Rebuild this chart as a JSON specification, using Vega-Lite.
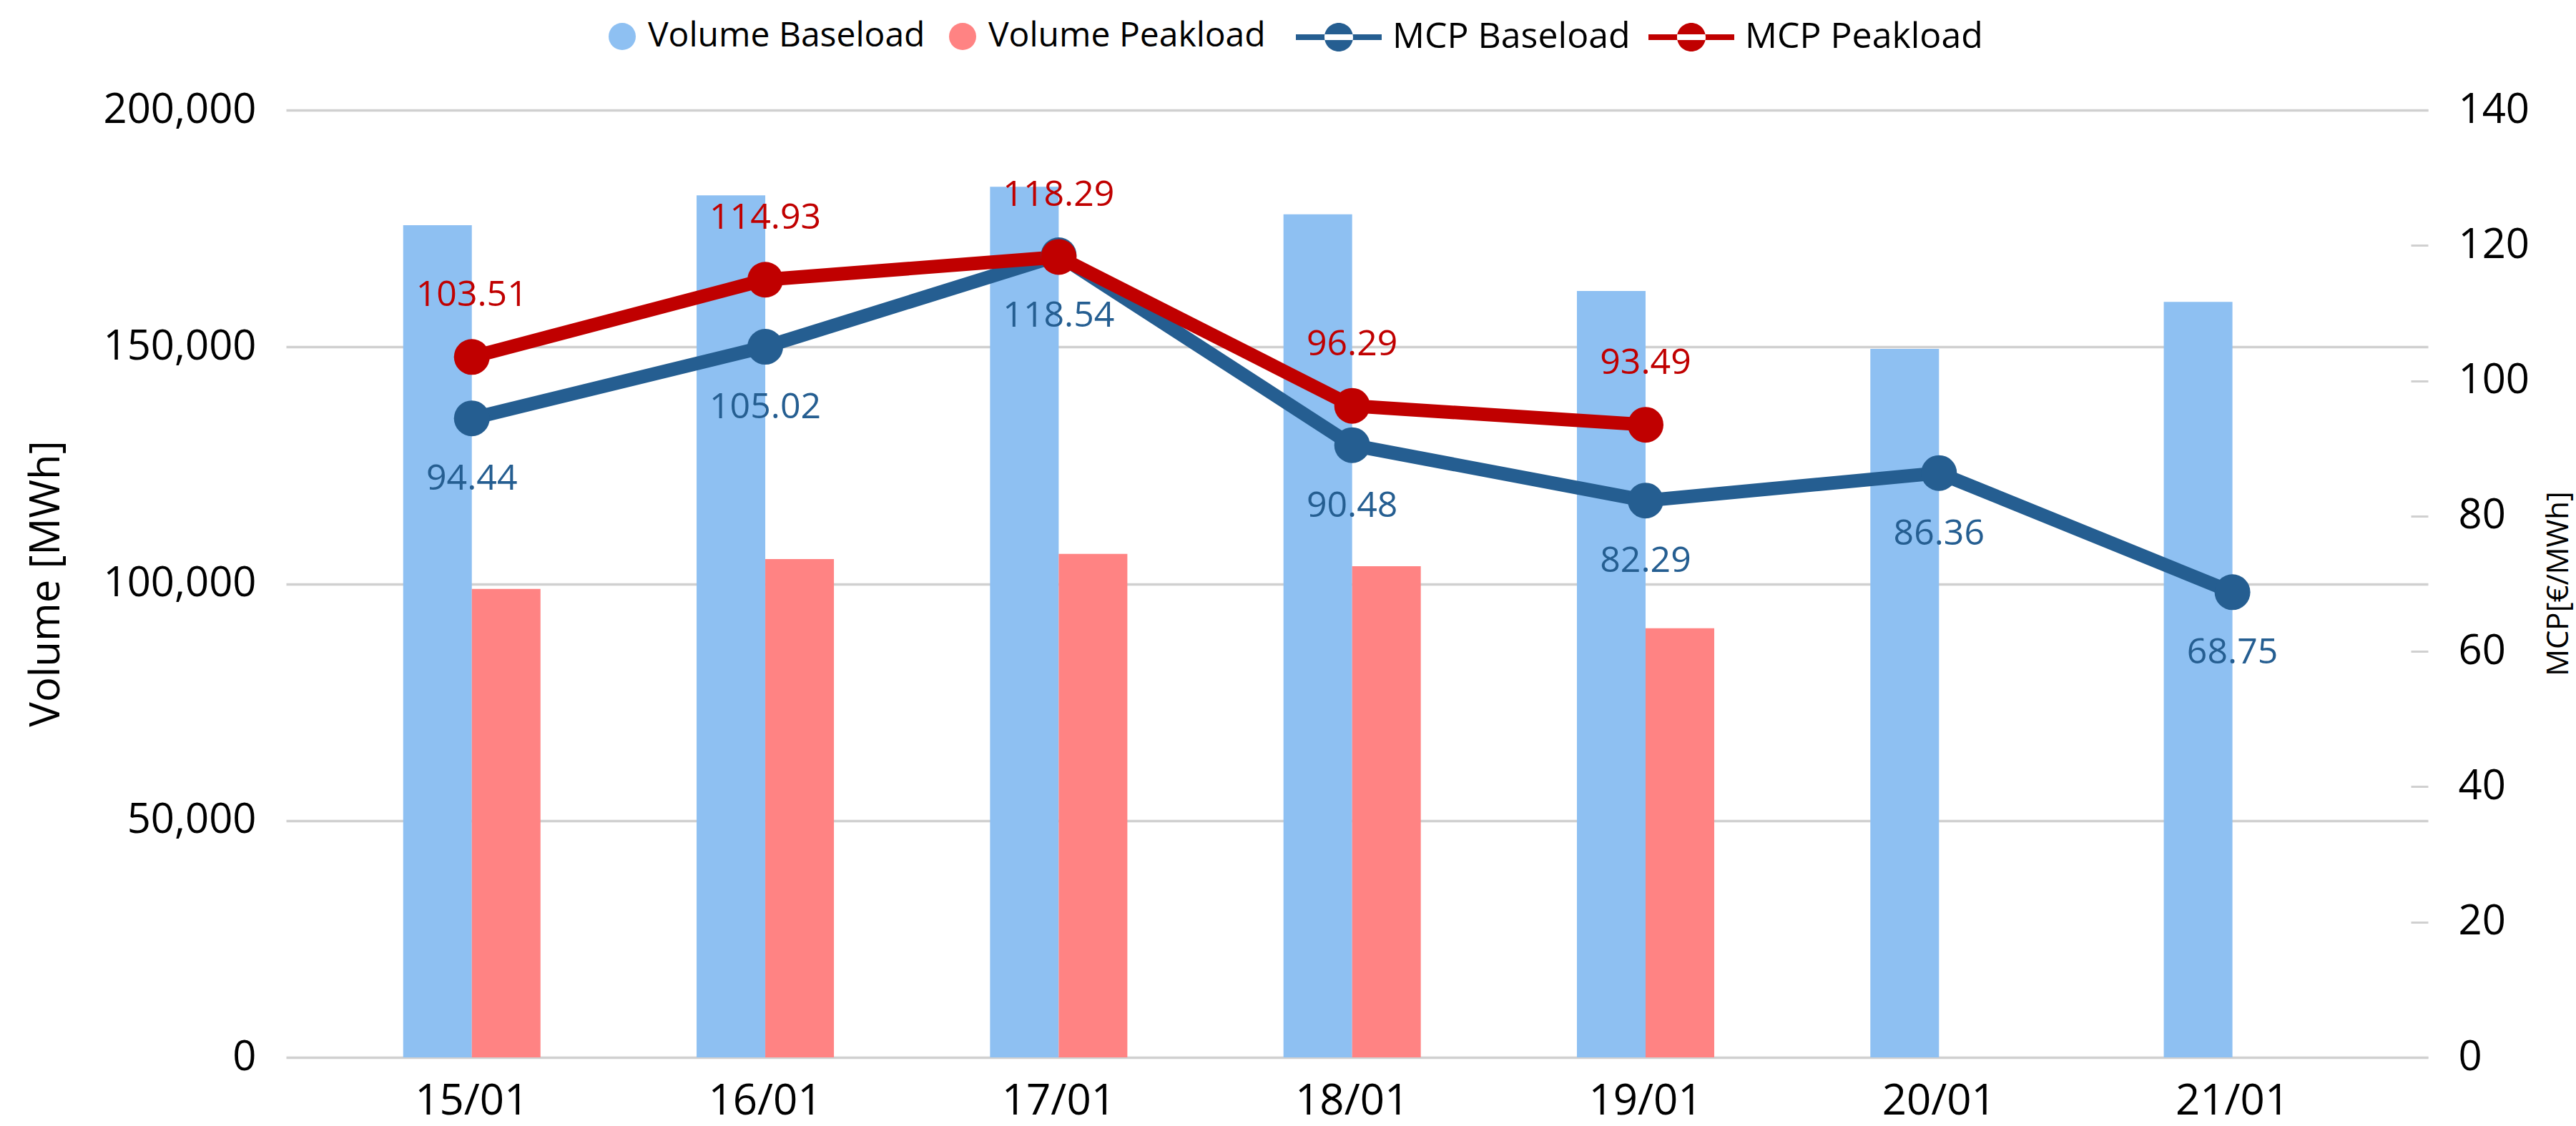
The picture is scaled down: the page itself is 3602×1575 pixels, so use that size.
{
  "$schema": "https://vega.github.io/schema/vega-lite/v6.json",
  "width": 2995,
  "height": 1325,
  "autosize": {"type": "none"},
  "padding": {"left": 400, "top": 154, "right": 207, "bottom": 96},
  "background": "white",
  "datasets": {
    "volume": [
      {"date": "15/01", "series": "Volume Baseload", "volume": 175700},
      {"date": "15/01", "series": "Volume Peakload", "volume": 98900},
      {"date": "16/01", "series": "Volume Baseload", "volume": 182000},
      {"date": "16/01", "series": "Volume Peakload", "volume": 105200},
      {"date": "17/01", "series": "Volume Baseload", "volume": 183800},
      {"date": "17/01", "series": "Volume Peakload", "volume": 106300},
      {"date": "18/01", "series": "Volume Baseload", "volume": 178000},
      {"date": "18/01", "series": "Volume Peakload", "volume": 103700},
      {"date": "19/01", "series": "Volume Baseload", "volume": 161800},
      {"date": "19/01", "series": "Volume Peakload", "volume": 90600},
      {"date": "20/01", "series": "Volume Baseload", "volume": 149600},
      {"date": "21/01", "series": "Volume Baseload", "volume": 159500}
    ],
    "mcp": [
      {"date": "15/01", "series": "MCP Baseload", "mcp": 94.44},
      {"date": "16/01", "series": "MCP Baseload", "mcp": 105.02},
      {"date": "17/01", "series": "MCP Baseload", "mcp": 118.54},
      {"date": "18/01", "series": "MCP Baseload", "mcp": 90.48},
      {"date": "19/01", "series": "MCP Baseload", "mcp": 82.29},
      {"date": "20/01", "series": "MCP Baseload", "mcp": 86.36},
      {"date": "21/01", "series": "MCP Baseload", "mcp": 68.75},
      {"date": "15/01", "series": "MCP Peakload", "mcp": 103.51},
      {"date": "16/01", "series": "MCP Peakload", "mcp": 114.93},
      {"date": "17/01", "series": "MCP Peakload", "mcp": 118.29},
      {"date": "18/01", "series": "MCP Peakload", "mcp": 96.29},
      {"date": "19/01", "series": "MCP Peakload", "mcp": 93.49}
    ]
  },
  "config": {
    "view": {"stroke": null},
    "font": "Open Sans",
    "axis": {"labelColor": "#000000", "titleColor": "#000000", "labelFont": "Open Sans", "titleFont": "Open Sans", "titleFontWeight": "normal", "labelLimit": 0},
    "legend": {"padding": 0, "labelFont": "Open Sans", "labelFontSize": 50, "labelColor": "#000000", "labelLimit": 0}
  },
  "encoding": {
    "x": {
      "field": "date",
      "type": "nominal",
      "sort": ["15/01", "16/01", "17/01", "18/01", "19/01", "20/01", "21/01"],
      "scale": {"type": "band", "paddingInner": 0.532, "paddingOuter": 0.4157, "align": 0.48},
      "axis": {"title": null, "domain": false, "ticks": false, "grid": false, "labelFontSize": 60, "labelPadding": 32, "labelAngle": 0}
    }
  },
  "layer": [
    {
      "data": {"name": "volume"},
      "mark": {"type": "bar"},
      "encoding": {
        "xOffset": {"field": "series", "type": "nominal", "scale": {"domain": ["Volume Baseload", "Volume Peakload"], "paddingInner": 0, "paddingOuter": 0}},
        "y": {
          "field": "volume",
          "type": "quantitative",
          "scale": {"domain": [0, 200000], "nice": false},
          "axis": {
            "title": "Volume [MWh]",
            "values": [0, 50000, 100000, 150000, 200000],
            "format": ",d",
            "grid": true,
            "gridColor": "#D0D0D0",
            "gridWidth": 3.5,
            "domain": false,
            "ticks": false,
            "labelFontSize": 58,
            "labelPadding": 42,
            "titleFontSize": 58,
            "titleAngle": 270,
            "titleX": -335,
            "titleY": 662,
            "titleAlign": "center",
            "titleBaseline": "middle"
          }
        },
        "color": {
          "field": "series",
          "type": "nominal",
          "scale": {"domain": ["Volume Baseload", "Volume Peakload"], "range": ["#8EC0F2", "#FF8383"]},
          "legend": {
            "title": null,
            "orient": "none",
            "direction": "horizontal",
            "legendX": 446,
            "legendY": -127,
            "symbolType": "circle",
            "symbolSize": 1444,
            "symbolStrokeWidth": 0,
            "labelFontSize": 48,
            "labelOffset": 12,
            "columnPadding": 28
          }
        }
      }
    },
    {
      "data": {"name": "mcp"},
      "encoding": {
        "y": {
          "field": "mcp",
          "type": "quantitative",
          "scale": {"domain": [0, 140], "nice": false},
          "axis": {
            "orient": "right",
            "title": "MCP[€/MWh]",
            "values": [0, 20, 40, 60, 80, 100, 120, 140],
            "grid": false,
            "domain": false,
            "ticks": true,
            "tickSize": -24,
            "tickColor": "#D0D0D0",
            "tickWidth": 3,
            "labelFontSize": 58,
            "labelPadding": 66,
            "titleFontSize": 42,
            "titleAngle": 270,
            "titleX": 182,
            "titleY": 662,
            "titleAlign": "center",
            "titleBaseline": "middle"
          }
        }
      },
      "layer": [
        {
          "mark": {"type": "line", "strokeWidth": 19},
          "encoding": {
            "color": {
              "field": "series",
              "type": "nominal",
              "scale": {"domain": ["MCP Baseload", "MCP Peakload"], "range": ["#255E91", "#C00000"]},
              "legend": {
                "title": null,
                "orient": "none",
                "direction": "horizontal",
                "legendX": 1412,
                "legendY": -162,
                "symbolType": "M-1,-0.0667L1,-0.0667L1,0.0667L-1,0.0667ZM-0.3333,0A0.3333,0.3333,0,1,0,0.3333,0A0.3333,0.3333,0,1,0,-0.3333,0Z",
                "symbolSize": 14400,
                "symbolStrokeWidth": 0,
                "labelOffset": 15,
                "columnPadding": 25
              }
            }
          }
        },
        {
          "mark": {"type": "point", "filled": true, "size": 2500, "opacity": 1},
          "encoding": {
            "color": {
              "field": "series",
              "type": "nominal",
              "scale": {"domain": ["MCP Baseload", "MCP Peakload"], "range": ["#255E91", "#C00000"]},
              "legend": {
                "title": null,
                "orient": "none",
                "direction": "horizontal",
                "legendX": 1412,
                "legendY": -162,
                "symbolType": "M-1,-0.0667L1,-0.0667L1,0.0667L-1,0.0667ZM-0.3333,0A0.3333,0.3333,0,1,0,0.3333,0A0.3333,0.3333,0,1,0,-0.3333,0Z",
                "symbolSize": 14400,
                "symbolStrokeWidth": 0,
                "labelOffset": 15,
                "columnPadding": 25
              }
            }
          }
        },
        {
          "transform": [{"filter": "datum.series == 'MCP Baseload'"}],
          "mark": {"type": "text", "dy": 85, "fontSize": 50, "font": "Open Sans", "color": "#255E91", "baseline": "middle", "align": "center"},
          "encoding": {"text": {"field": "mcp", "type": "quantitative", "format": ".2f"}}
        },
        {
          "transform": [{"filter": "datum.series == 'MCP Peakload'"}],
          "mark": {"type": "text", "dy": -86, "fontSize": 50, "font": "Open Sans", "color": "#C00000", "baseline": "middle", "align": "center"},
          "encoding": {"text": {"field": "mcp", "type": "quantitative", "format": ".2f"}}
        }
      ]
    }
  ],
  "resolve": {
    "scale": {"y": "independent", "color": "independent"},
    "axis": {"y": "independent"},
    "legend": {"color": "independent"}
  }
}
